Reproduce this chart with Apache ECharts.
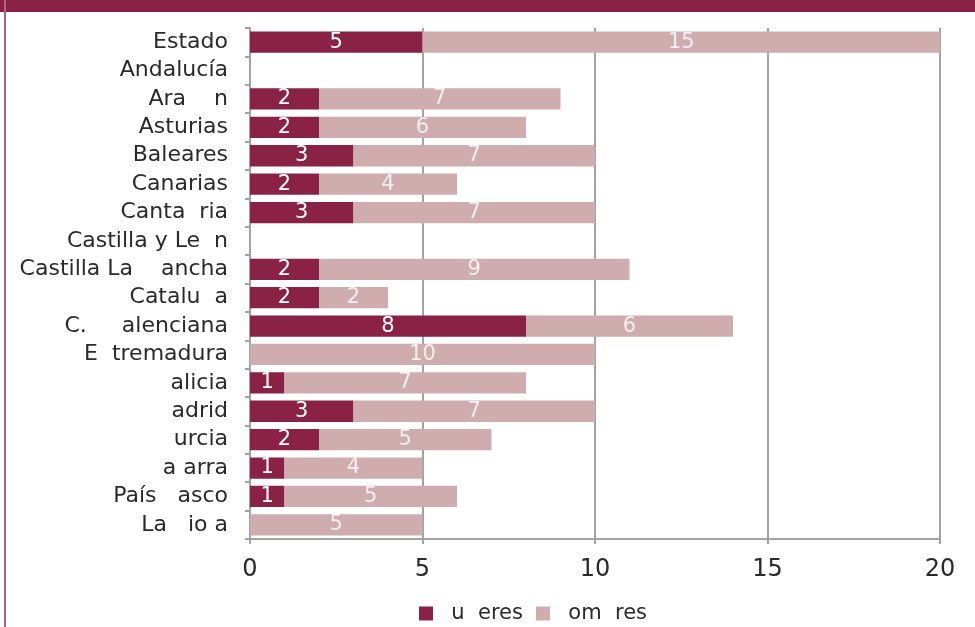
<!DOCTYPE html>
<html>
<head>
<meta charset="utf-8">
<script src="https://cdn.jsdelivr.net/npm/echarts@6/dist/echarts.min.js"></script>
<style>
  html, body { margin: 0; padding: 0; background: #fff; }
  #chart { width: 975px; height: 627px; }
</style>
</head>
<body>
<div id="chart"></div>
<script>
// regions as they show in the picture (some glyphs are missing there)
const regions = [
  'Estado', 'Andalucía', 'Ara    n', 'Asturias', 'Baleares', 'Canarias', 'Canta  ria',
  'Castilla y Le  n', 'Castilla La    ancha', 'Catalu  a', 'C.     alenciana', 'E  tremadura',
  'alicia', 'adrid', 'urcia', 'a arra', 'País   asco', 'La   io a'
]
const mujeres = [5, 0, 2, 2, 3, 2, 3, 0, 2, 2, 8, 0, 1, 3, 2, 1, 1, 0]
const hombres = [15, 0, 7, 6, 7, 4, 7, 0, 9, 2, 6, 10, 7, 7, 5, 4, 5, 5]
const seriesNames = ['  u  eres', '  om  res']

const DARK = '#8a2246'
const LIGHT = '#cfadaf'
const GRID = '#a3a3a3'
const TEXT = '#2a2a2a'
const FONT = 'DejaVu Sans, Verdana, sans-serif'

const chart = echarts.init(document.getElementById('chart'), null, { renderer: 'canvas' })

const valueLabel = color => ({
  show: true,
  position: 'inside',
  color,
  fontFamily: FONT,
  fontSize: 21,
  formatter: p => (p.value ? p.value : ''),
})

chart.setOption({
  animation: false,
  textStyle: { fontFamily: FONT },
  graphic: [
    { type: 'rect', left: 0, top: 0, shape: { width: 975, height: 12 }, style: { fill: '#8a2246' }, z: 10 },
    { type: 'rect', left: 4, top: 0, shape: { width: 2, height: 627 }, style: { fill: '#b3607c' }, z: 10 },
  ],
  grid: { left: 250, right: 35, top: 28, bottom: 88, containLabel: false },
  legend: {
    top: 598,
    left: 414,
    itemWidth: 14,
    itemHeight: 14,
    itemGap: 13,
    icon: 'rect',
    textStyle: { color: TEXT, fontSize: 21, fontFamily: FONT },
    data: seriesNames,
  },
  xAxis: {
    type: 'value',
    min: 0,
    max: 20,
    interval: 5,
    axisLine: { show: true, lineStyle: { color: GRID, width: 2 } },
    axisTick: { show: true, length: 5, lineStyle: { color: GRID, width: 2 } },
    axisLabel: { color: TEXT, fontSize: 24, fontFamily: FONT, margin: 19 },
    splitLine: { show: true, lineStyle: { color: GRID, width: 2 } },
  },
  yAxis: {
    type: 'category',
    data: regions,
    inverse: true,
    boundaryGap: true,
    axisLine: { show: true, lineStyle: { color: GRID, width: 2 } },
    axisTick: { show: true, length: 5, interval: 0, lineStyle: { color: GRID, width: 2 } },
    axisLabel: { color: TEXT, fontSize: 22, fontFamily: FONT, margin: 22, interval: 0 },
  },
  series: [
    {
      name: seriesNames[0],
      type: 'bar',
      stack: 'total',
      barWidth: '75%',
      data: mujeres,
      itemStyle: { color: DARK },
      label: valueLabel('#ffffff'),
      z: 3,
    },
    {
      name: seriesNames[1],
      type: 'bar',
      stack: 'total',
      barWidth: '75%',
      data: hombres,
      itemStyle: { color: LIGHT },
      label: valueLabel('#f6eeef'),
      z: 3,
    },
  ],
})
</script>
</body>
</html>
